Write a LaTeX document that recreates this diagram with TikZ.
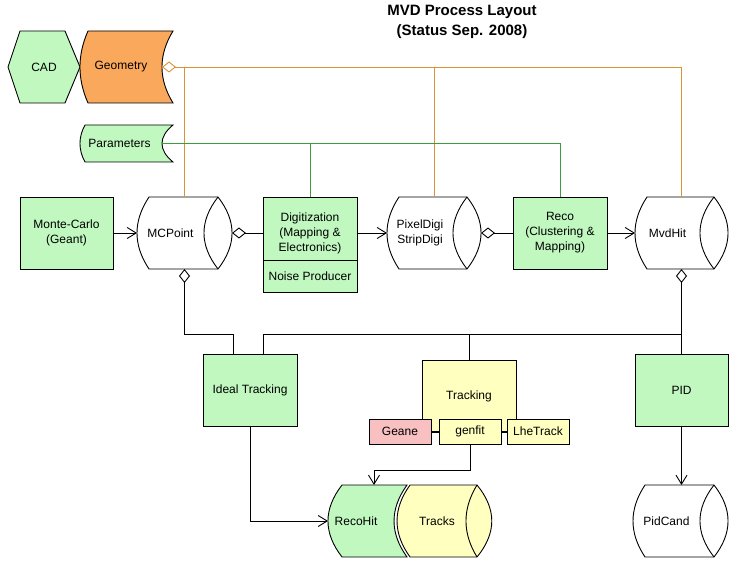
\documentclass[tikz,border=0pt]{standalone}
\usepackage{fontspec}
\setmainfont{Liberation Sans}
\usetikzlibrary{arrows.meta,calc}
\definecolor{lgreen}{RGB}{192,248,192}
\definecolor{geoor}{RGB}{250,168,92}
\definecolor{oline}{RGB}{216,146,56}
\definecolor{gline}{RGB}{56,160,56}
\definecolor{lyellow}{RGB}{255,255,192}
\definecolor{lpink}{RGB}{248,192,192}
\newcommand\storage[7]{%
  \pgfmathsetmacro\sH{(#5-#4)/3}%
  \pgfmathsetmacro\sW{#3-#2}%
  \pgfmathsetmacro\sHt{#5-#4}%
  \filldraw[fill=#6] (#2+12,#4) -- (#3-14,#4) .. controls (#3+4.7,#4+\sH) and (#3+4.7,#5-\sH) .. (#3-14,#5) -- (#2+12,#5) .. controls (#2-4,#5-\sH) and (#2-4,#4+\sH) .. (#2+12,#4) -- cycle;
  \draw (#3-14,#4) .. controls (#3-32.7,#4+\sH) and (#3-32.7,#5-\sH) .. (#3-14,#5);
  \node[frame, minimum width=\sW pt, minimum height=\sHt pt] (#1) at ({(#2+#3)/2},{(#4+#5)/2}) {};
  \node[lbl] (#1t) at ({(#2+#3-28)/2},{(#4+#5)/2}) {#7};
}
\begin{document}
\begin{tikzpicture}[x=1pt,y=-1pt,line width=0.9pt,
  lbl/.style={font=\fontsize{12}{15}\selectfont, align=center, inner sep=0},
  box/.style={draw, fill=lgreen, inner sep=0, outer sep=0, align=center, font=\fontsize{12}{15}\selectfont},
  frame/.style={inner sep=0, outer sep=0, rectangle},
  arr/.style={-{Straight Barb[length=9pt,width=11pt]}},
  dia/.style={{Diamond[open,length=14pt,width=11pt]}-},
  ttl/.style={font=\fontsize{15}{18}\selectfont\bfseries, inner sep=0}]
\useasboundingbox (0,0) rectangle (738,569);

% title
\node[ttl] (title1) at (462,12) {MVD Process Layout};
\node[ttl] (title2) at (462,32) {(Status Sep. 2008)};

% CAD
\filldraw[fill=lgreen] (8,67) -- (20,31) -- (65,31) -- (80,67) -- (65,103) -- (20,103) -- cycle;
\node[lbl] (cad) at (44,67) {CAD};

% Geometry
\filldraw[fill=geoor] (88,31) -- (173,31) .. controls (158.3,55) and (158.3,79) .. (173,103) -- (88,103) .. controls (77.3,79) and (77.3,55) .. (88,31) -- cycle;
\node[frame, minimum width=93pt, minimum height=72pt] (geo) at (126.5,67) {};
\node[lbl] (geot) at (121,67) {Geometry};

% Parameters
\filldraw[fill=lgreen] (85,125) -- (173,125) .. controls (158.3,137) and (158.3,150) .. (173,162) -- (85,162) .. controls (78.3,150) and (78.3,137) .. (85,125) -- cycle;
\node[frame, minimum width=93pt, minimum height=37pt] (par) at (126.5,143.5) {};
\node[lbl] (part) at (119.5,143) {Parameters};

% boxes row
\node[box, minimum width=93pt, minimum height=72pt] (mc) at (66.5,233) {};
\node[lbl] (mct) at (66.5,233) {Monte-Carlo\\(Geant)};
\storage{mcp}{137}{232}{197}{269}{white}{MCPoint}
\node[box, minimum width=94pt, minimum height=63pt] (digiU) at (310,228.5) {};
\node[box, minimum width=94pt, minimum height=32pt] (digiL) at (310,276) {Noise Producer};
\node[lbl] (digit) at (310,233) {Digitization\\(Mapping \&\\Electronics)};
\storage{pix}{387}{481}{197}{269}{white}{PixelDigi\\StripDigi}
\node[box, minimum width=94pt, minimum height=72pt] (reco) at (560,233) {};
\node[lbl] (recot) at (560,233) {Reco\\(Clustering \&\\Mapping)};
\storage{mvd}{635}{728}{197}{269}{white}{MvdHit}

% geometry / parameter lines
\draw[oline, dia] ([xshift=-11pt]geo.east) -- (geo.east -| mvd.north) -- (mvd.north);
\draw[oline] (mcp.north) -- (mcp.north |- geo.east);
\draw[oline] (pix.north) -- (pix.north |- geo.east);
\draw[gline] ([xshift=-11pt]par.east) -- (par.east -| reco.north) -- (reco.north);
\draw[gline] (digiU.north) -- (digiU.north |- par.east);

% flow row
\draw[arr] (mc.east) -- (mcp.west);
\draw[dia] (mcp.east) -- (mcp.east -| digiU.west);
\draw[arr] (digiU.east |- pix.west) -- (pix.west);
\draw[dia] (pix.east) -- (reco.west);
\draw[arr] (reco.east) -- (mvd.west);

% lower boxes
\node[box, minimum width=94pt, minimum height=72pt] (ideal) at (250,390) {Ideal Tracking};
\node[box, fill=lyellow, minimum width=94pt, minimum height=72pt] (track) at (469,396) {};
\node[lbl] (trackt) at (469,396) {Tracking};
\node[box, fill=lpink, minimum width=62pt, minimum height=25pt] (geane) at (400,431.5) {Geane};
\node[box, fill=lyellow, minimum width=62pt, minimum height=25pt] (genfit) at (470,431.5) {genfit};
\node[box, fill=lyellow, minimum width=62pt, minimum height=25pt] (lhe) at (538,431.5) {LheTrack};
\node[box, minimum width=93pt, minimum height=72pt] (pid) at (681.5,390) {PID};
\draw (geane.east) -- (genfit.west);
\draw (genfit.east) -- (lhe.west);

% connections to lower boxes
\draw[dia] (mcp.south) -- ++(0,65) coordinate (j1) -| ([xshift=-17pt]ideal.north);
\draw[dia] (mvd.south) -- (mvd.south |- pid.north);
\draw (mvd.south |- j1) -| ([xshift=13pt]ideal.north);
\draw (track.north) -- (track.north |- j1);

% RecoHit and Tracks
\filldraw[fill=lgreen] (342,485) -- (407,485) .. controls (389.7,509) and (389.7,533) .. (407,557) -- (342,557) .. controls (323.3,533) and (323.3,509) .. (342,485) -- cycle;
\node[frame, minimum width=79pt, minimum height=72pt] (rh) at (367.5,521) {};
\node[lbl] (rht) at (356,521) {RecoHit};
\coordinate (rhTop) at (374,485);
\filldraw[fill=lyellow] (410,485) -- (477,485) .. controls (496.7,509) and (496.7,533) .. (477,557) -- (410,557) .. controls (392.7,533) and (392.7,509) .. (410,485) -- cycle;
\draw (477,485) .. controls (462.3,509) and (462.3,533) .. (477,557);
\node[frame, minimum width=82pt, minimum height=72pt] (tracks) at (451,521) {};
\node[lbl] (trackst) at (437,521) {Tracks};

\storage{pidc}{633}{728}{485}{557}{white}{PidCand}

\draw[arr] (genfit.south) -- ++(0,26) -| (rhTop);
\draw[arr] (ideal.south) |- (rh.west);
\draw[arr] (pid.south) -- (pid.south |- pidc.north);
\end{tikzpicture}
\end{document}
